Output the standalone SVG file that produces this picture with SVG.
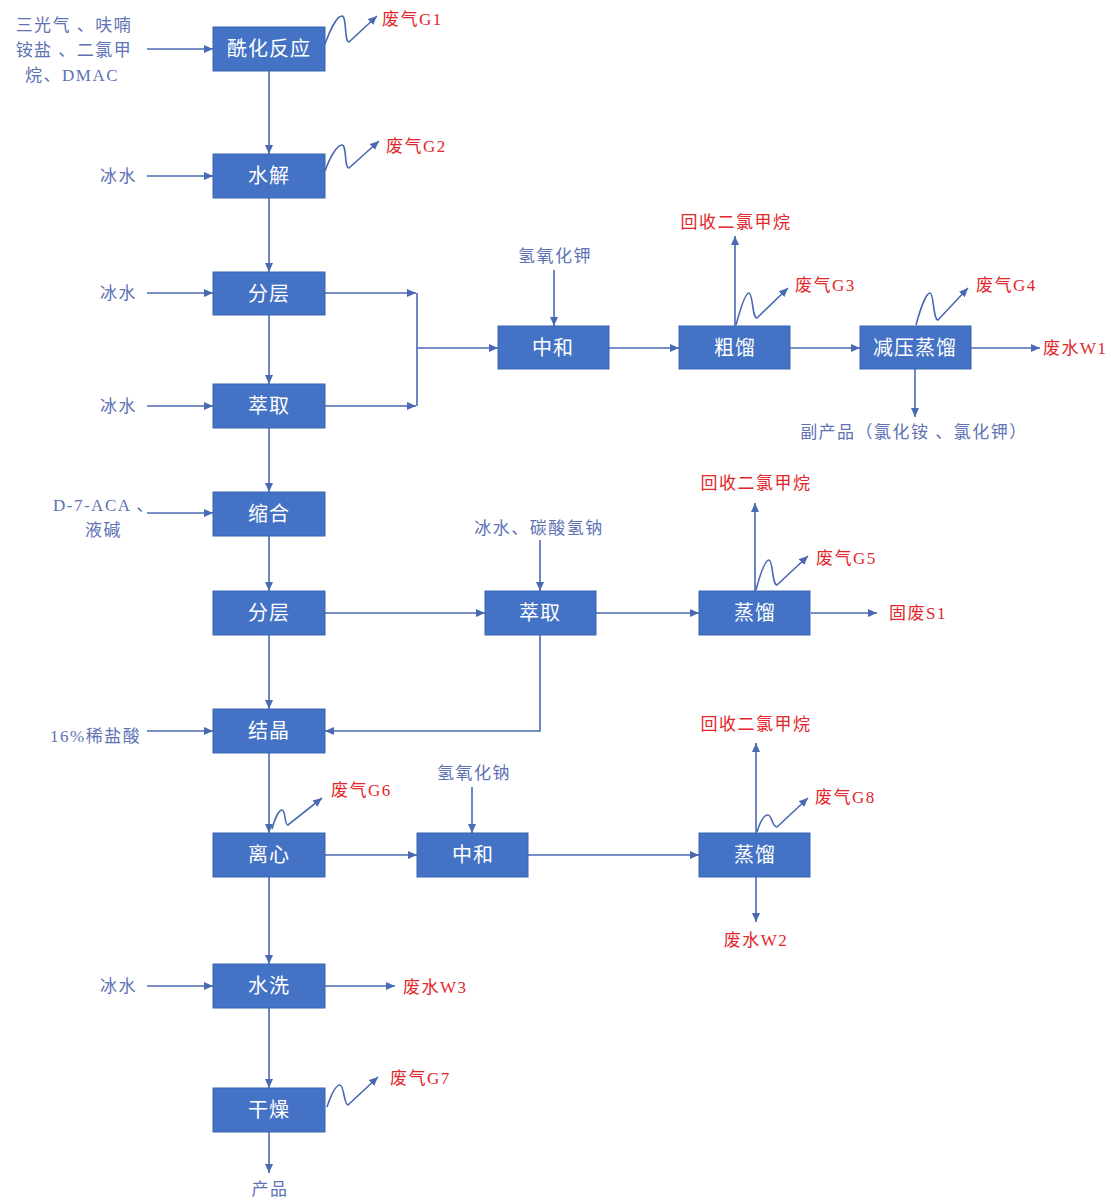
<svg xmlns="http://www.w3.org/2000/svg" width="1111" height="1200" viewBox="0 0 1111 1200">
<style>
.box rect{fill:#4472C4;stroke:#3B64B0;stroke-width:1}
.box text{fill:#ffffff;font-family:"Noto Sans CJK SC",sans-serif;font-size:20px;text-anchor:middle;letter-spacing:1px}
.in{fill:#5E72B4;font-family:"Liberation Serif","Noto Sans CJK SC",serif;font-size:17px;letter-spacing:1.5px}
.out{fill:#E3262B;font-family:"Liberation Serif","Noto Sans CJK SC",serif;font-size:17px;letter-spacing:1.5px}
.mid{text-anchor:middle}
#connectors path,#connectors line{stroke:#4A69B3;stroke-width:1.6;fill:none}
.a{marker-end:url(#arr)}
</style>
<defs>
<marker id="arr" markerWidth="9" markerHeight="8" refX="9" refY="4" orient="auto" markerUnits="userSpaceOnUse">
<path d="M0,0 L9,4 L0,8 z" fill="#4A69B3"/>
</marker>
</defs>
<rect width="1111" height="1200" fill="#ffffff"/>

<g id="connectors">
<!-- main column -->
<line class="a" x1="269" y1="71" x2="269" y2="154"/>
<line class="a" x1="269" y1="198" x2="269" y2="272"/>
<line class="a" x1="269" y1="315" x2="269" y2="384"/>
<line class="a" x1="269" y1="428" x2="269" y2="492"/>
<line class="a" x1="269" y1="536" x2="269" y2="591"/>
<line class="a" x1="269" y1="635" x2="269" y2="709"/>
<line class="a" x1="269" y1="753" x2="269" y2="833"/>
<line class="a" x1="269" y1="877" x2="269" y2="964"/>
<line class="a" x1="269" y1="1008" x2="269" y2="1088"/>
<line class="a" x1="269" y1="1132" x2="269" y2="1173"/>
<!-- left inputs -->
<line class="a" x1="147" y1="49" x2="213" y2="49"/>
<line class="a" x1="147" y1="176" x2="213" y2="176"/>
<line class="a" x1="147" y1="293" x2="213" y2="293"/>
<line class="a" x1="147" y1="406" x2="213" y2="406"/>
<line class="a" x1="147" y1="513" x2="213" y2="513"/>
<line class="a" x1="147" y1="731" x2="213" y2="731"/>
<line class="a" x1="147" y1="986" x2="213" y2="986"/>
<!-- waste gas squiggles -->
<path class="a" d="M325,44 C330,30 337,16 342,16 C347,16 344,42 349,42 L377,16"/>
<path class="a" d="M325,171 C330,157 337,145 342,145 C347,145 344,168 349,168 L379,141"/>
<path class="a" d="M736,325 C740,310 745,293 749,293 C753,293 752,318 757,318 L788,288"/>
<path class="a" d="M916,325 C920,310 926,293 930,293 C934,293 933,320 938,320 L968,288"/>
<path class="a" d="M756,590 C760,575 765,560 769,560 C773,560 772,585 777,585 L808,556"/>
<path class="a" d="M272,829 C275,818 279,810 282,810 C286,810 284,825 288,825 L322,798"/>
<path class="a" d="M757,832 C760,822 764,815 768,815 C772,815 772,827 777,827 L808,798"/>
<path class="a" d="M327,1107 C331,1095 336,1085 340,1085 C344,1085 344,1105 348,1105 L378,1077"/>
<!-- upper branch -->
<line class="a" x1="325" y1="293" x2="416" y2="293"/>
<line class="a" x1="325" y1="406" x2="416" y2="406"/>
<line x1="417" y1="293" x2="417" y2="406"/>
<line class="a" x1="417" y1="348" x2="498" y2="348"/>
<line class="a" x1="554" y1="270" x2="554" y2="326"/>
<line class="a" x1="609" y1="348" x2="679" y2="348"/>
<line class="a" x1="735" y1="326" x2="735" y2="236"/>
<line class="a" x1="790" y1="348" x2="860" y2="348"/>
<line class="a" x1="971" y1="348" x2="1040" y2="348"/>
<line class="a" x1="915" y1="369" x2="915" y2="417"/>
<!-- middle branch -->
<line class="a" x1="325" y1="613" x2="485" y2="613"/>
<line class="a" x1="540" y1="540" x2="540" y2="591"/>
<line class="a" x1="596" y1="613" x2="699" y2="613"/>
<line class="a" x1="755" y1="591" x2="755" y2="503"/>
<line class="a" x1="811" y1="613" x2="877" y2="613"/>
<path class="a" d="M540,635 L540,731 L325,731"/>
<!-- lower branch -->
<line class="a" x1="325" y1="855" x2="417" y2="855"/>
<line class="a" x1="472" y1="787" x2="472" y2="833"/>
<line class="a" x1="528" y1="855" x2="699" y2="855"/>
<line class="a" x1="756" y1="833" x2="756" y2="743"/>
<line class="a" x1="756" y1="877" x2="756" y2="922"/>
<line class="a" x1="325" y1="986" x2="395" y2="986"/>
</g>

<g id="n-acylation" class="box"><rect x="213" y="27" width="112" height="44"/><text x="269" y="56">酰化反应</text></g>
<g id="n-hydrolysis" class="box"><rect x="213" y="154" width="112" height="44"/><text x="269" y="183">水解</text></g>
<g id="n-separate1" class="box"><rect x="213" y="272" width="112" height="43"/><text x="269" y="301">分层</text></g>
<g id="n-extract1" class="box"><rect x="213" y="384" width="112" height="44"/><text x="269" y="413">萃取</text></g>
<g id="n-condense" class="box"><rect x="213" y="492" width="112" height="44"/><text x="269" y="521">缩合</text></g>
<g id="n-separate2" class="box"><rect x="213" y="591" width="112" height="44"/><text x="269" y="620">分层</text></g>
<g id="n-crystal" class="box"><rect x="213" y="709" width="112" height="44"/><text x="269" y="738">结晶</text></g>
<g id="n-centrifuge" class="box"><rect x="213" y="833" width="112" height="44"/><text x="269" y="862">离心</text></g>
<g id="n-wash" class="box"><rect x="213" y="964" width="112" height="44"/><text x="269" y="993">水洗</text></g>
<g id="n-dry" class="box"><rect x="213" y="1088" width="112" height="44"/><text x="269" y="1117">干燥</text></g>
<g id="n-neutral1" class="box"><rect x="498" y="326" width="111" height="43"/><text x="553" y="355">中和</text></g>
<g id="n-crude" class="box"><rect x="679" y="326" width="111" height="43"/><text x="735" y="355">粗馏</text></g>
<g id="n-vacuum" class="box"><rect x="860" y="326" width="111" height="43"/><text x="915" y="355">减压蒸馏</text></g>
<g id="n-extract2" class="box"><rect x="485" y="591" width="111" height="44"/><text x="540" y="620">萃取</text></g>
<g id="n-distill1" class="box"><rect x="699" y="591" width="111" height="44"/><text x="755" y="620">蒸馏</text></g>
<g id="n-neutral2" class="box"><rect x="417" y="833" width="111" height="44"/><text x="473" y="862">中和</text></g>
<g id="n-distill2" class="box"><rect x="699" y="833" width="111" height="44"/><text x="755" y="862">蒸馏</text></g>

<g id="labels">
<text class="in mid" x="74" y="31">三光气 、呋喃</text>
<text class="in mid" x="74" y="56">铵盐 、二氯甲</text>
<text class="in mid" x="72" y="81">烷、DMAC</text>
<text class="in" x="100" y="182">冰水</text>
<text class="in" x="100" y="299">冰水</text>
<text class="in" x="100" y="412">冰水</text>
<text class="in" x="53" y="511">D-7-ACA 、</text>
<text class="in" x="85" y="536">液碱</text>
<text class="in" x="50" y="742">16%稀盐酸</text>
<text class="in" x="100" y="992">冰水</text>
<text class="in mid" x="555" y="262">氢氧化钾</text>
<text class="in mid" x="914" y="438">副产品（氯化铵 、氯化钾）</text>
<text class="in mid" x="539" y="534">冰水、碳酸氢钠</text>
<text class="in mid" x="474" y="779">氢氧化钠</text>
<text class="in mid" x="270" y="1195">产品</text>
<text class="out" x="382" y="25">废气G1</text>
<text class="out" x="386" y="152">废气G2</text>
<text class="out mid" x="736" y="228">回收二氯甲烷</text>
<text class="out" x="795" y="291">废气G3</text>
<text class="out" x="976" y="291">废气G4</text>
<text class="out" x="1043" y="354">废水W1</text>
<text class="out mid" x="756" y="489">回收二氯甲烷</text>
<text class="out" x="816" y="564">废气G5</text>
<text class="out" x="889" y="619">固废S1</text>
<text class="out mid" x="756" y="730">回收二氯甲烷</text>
<text class="out" x="331" y="796">废气G6</text>
<text class="out" x="815" y="803">废气G8</text>
<text class="out mid" x="756" y="946">废水W2</text>
<text class="out" x="403" y="993">废水W3</text>
<text class="out" x="390" y="1084">废气G7</text>
</g>
</svg>
